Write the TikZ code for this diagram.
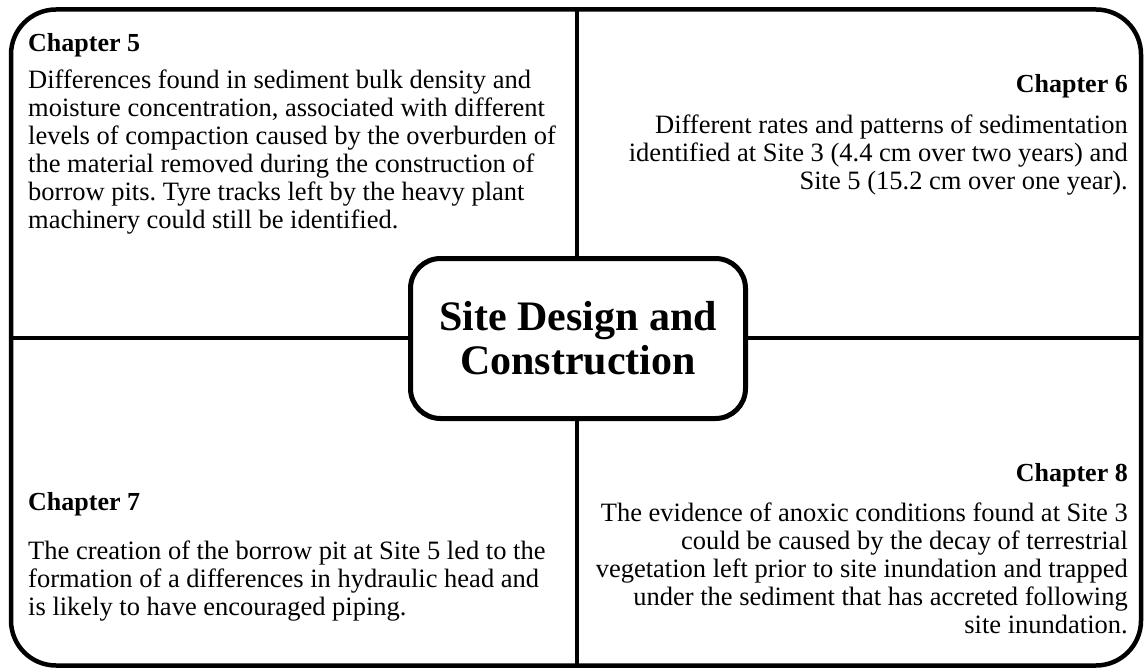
\documentclass[tikz,border=0pt]{standalone}
\usepackage{fontspec}
\setmainfont{Liberation Serif}
\frenchspacing
\begin{document}
\begin{tikzpicture}[x=1pt,y=-1pt,
  frame/.style={draw, line width=4.5pt, rounded corners=45pt},
  divider/.style={line width=4.5pt},
  hub/.style={draw, line width=5pt, rounded corners=30pt, fill=white,
    minimum width=335pt, minimum height=160pt, align=center, inner sep=0pt,
    font=\fontsize{42}{44}\selectfont\bfseries},
  heading/.style={inner sep=0pt, font=\fontsize{26}{28}\selectfont\bfseries},
  bodyL/.style={inner sep=0pt, align=left, font=\fontsize{26.5}{28}\selectfont},
  bodyR/.style={inner sep=0pt, align=right, font=\fontsize{26.5}{28}\selectfont}]
\useasboundingbox (0,0) rectangle (1147,668);

% outer frame
\draw[frame] (11,9.5) rectangle (1141,665.5);

% quadrant dividers, meeting the frame
\coordinate (nt) at (577,9.5);
\coordinate (nb) at (577,665.5);
\coordinate (nl) at (11,338);
\coordinate (nr) at (1141,338);
\draw[divider] (nt) -- (nb);
\draw[divider] (nl) -- (nr);

% central topic
\node[hub] (hub) at (578,338.5) {Site Design and\\Construction};

% text blocks are placed by the baseline of their last line
% chapter 5 (top left)
\node[heading, anchor=base west] (h5) at (28,52) {Chapter 5};
\node[bodyL, anchor=base west] (t5) at (28,229) {Differences found in sediment bulk density and\\
moisture concentration, associated with different\\
levels of compaction caused by the overburden of\\
the material removed during the construction of\\
borrow pits. Tyre tracks left by the heavy plant\\
machinery could still be identified.};

% chapter 6 (top right)
\node[heading, anchor=base east] (h6) at (1128,93) {Chapter 6};
\node[bodyR, anchor=base east] (t6) at (1128,190) {Different rates and patterns of sedimentation\\
identified at Site 3 (4.4 cm over two years) and\\
Site 5 (15.2 cm over one year).};

% chapter 7 (bottom left)
\node[heading, anchor=base west] (h7) at (28,510) {Chapter 7};
\node[bodyL, anchor=base west] (t7) at (28,615) {The creation of the borrow pit at Site 5 led to the\\
formation of a differences in hydraulic head and\\
is likely to have encouraged piping.};

% chapter 8 (bottom right)
\node[heading, anchor=base east] (h8) at (1128,481) {Chapter 8};
\node[bodyR, anchor=base east] (t8) at (1128,633) {The evidence of anoxic conditions found at Site 3\\
could be caused by the decay of terrestrial\\
vegetation left prior to site inundation and trapped\\
under the sediment that has accreted following\\
site inundation.};
\end{tikzpicture}
\end{document}
